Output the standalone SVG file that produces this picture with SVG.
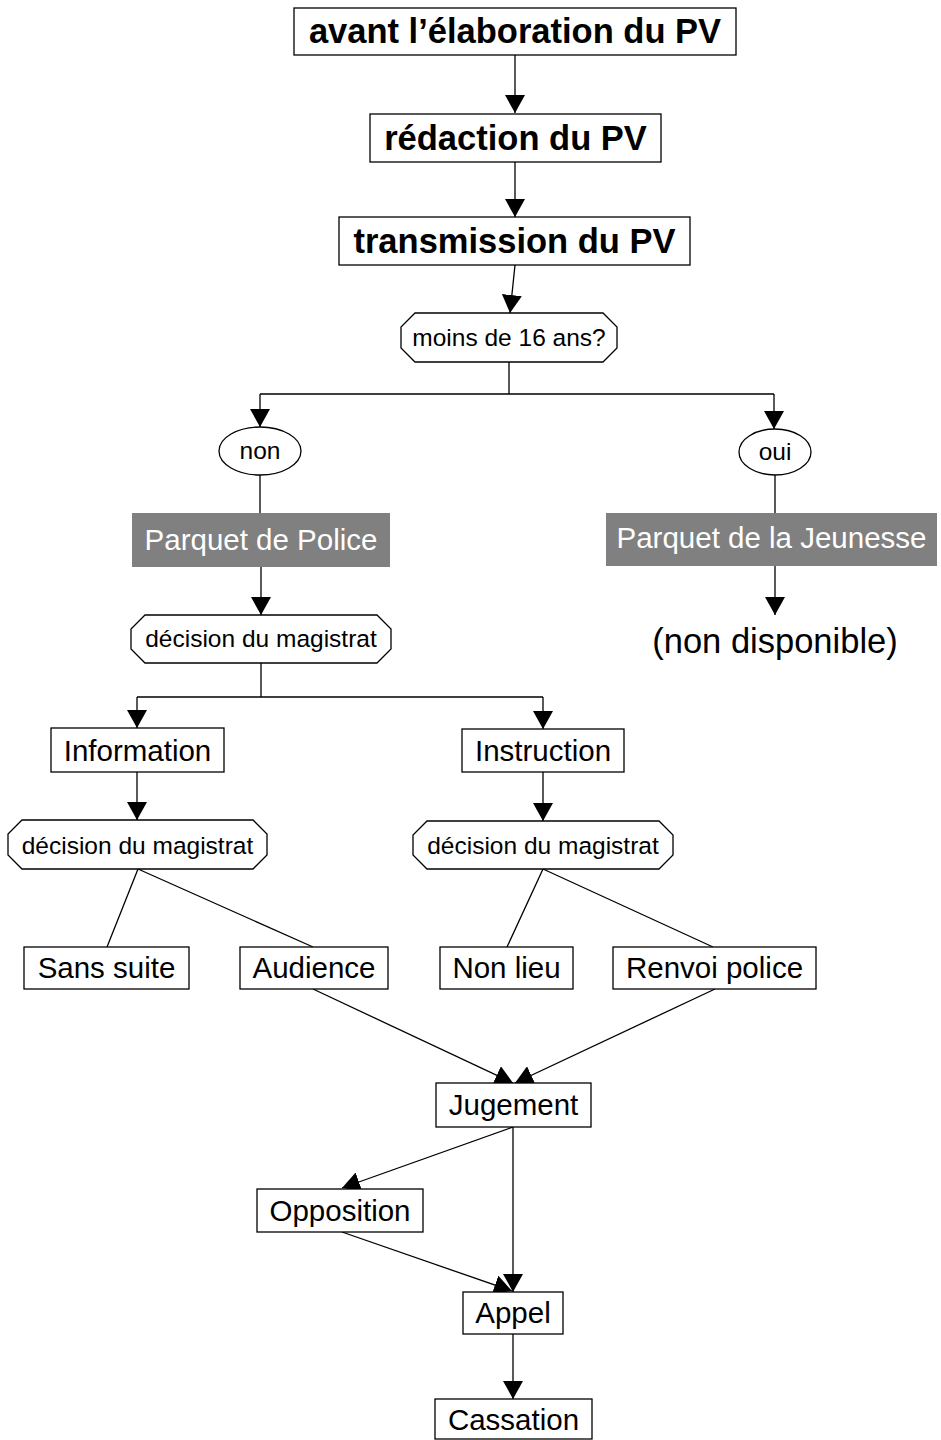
<svg xmlns="http://www.w3.org/2000/svg" width="941" height="1440" viewBox="0 0 941 1440">
<style>
.box{fill:#fff;stroke:#000;stroke-width:1.3}
.gray{fill:#808080;stroke:none}
.t{font-family:"Liberation Sans",Arial,sans-serif;text-anchor:middle;fill:#000}
.b{font-weight:bold;font-size:34.5px}
.m{font-size:29.5px}
.s{font-size:24.5px}
.w{fill:#fff}
.c{fill:none;stroke:#000;stroke-width:1.3}
</style>
<defs>
<marker id="ah" markerUnits="userSpaceOnUse" markerWidth="20" markerHeight="20" refX="18" refY="10" orient="auto">
<path d="M0,0 L18,10 L0,20 z" fill="#000"/>
</marker>
</defs>
<rect width="941" height="1440" fill="#fff"/>
<g id="connectors">
<path class="c" d="M515,55 L515,113" marker-end="url(#ah)"/>
<path class="c" d="M515,162 L515,217" marker-end="url(#ah)"/>
<path class="c" d="M515,265 L510,313" marker-end="url(#ah)"/>
<path class="c" d="M509,362 L509,394 M260,394 L774,394"/>
<path class="c" d="M260,394 L260,427" marker-end="url(#ah)"/>
<path class="c" d="M774,394 L774,429" marker-end="url(#ah)"/>
<path class="c" d="M260,475 L260,513"/>
<path class="c" d="M775,475 L775,513"/>
<path class="c" d="M261,567 L261,615" marker-end="url(#ah)"/>
<path class="c" d="M775,566 L775,615" marker-end="url(#ah)"/>
<path class="c" d="M261,663 L261,697 M137,697 L543,697"/>
<path class="c" d="M137,697 L137,728" marker-end="url(#ah)"/>
<path class="c" d="M543,697 L543,729" marker-end="url(#ah)"/>
<path class="c" d="M137,772 L137,820" marker-end="url(#ah)"/>
<path class="c" d="M543,772 L543,821" marker-end="url(#ah)"/>
<path class="c" d="M138,869 L107,947 M138,869 L313,947"/>
<path class="c" d="M543,869 L507,947 M543,869 L713,947"/>
<path class="c" d="M313,989 L513,1083" marker-end="url(#ah)"/>
<path class="c" d="M715,989 L515,1083" marker-end="url(#ah)"/>
<path class="c" d="M513,1127 L342,1188" marker-end="url(#ah)"/>
<path class="c" d="M513,1127 L513,1292" marker-end="url(#ah)"/>
<path class="c" d="M342,1232 L512,1291" marker-end="url(#ah)"/>
<path class="c" d="M513,1334 L513,1399" marker-end="url(#ah)"/>
</g>
<g id="n-avant"><rect class="box" x="294" y="8" width="442" height="47"/><text class="t b" x="515" y="43">avant l’élaboration du PV</text></g>
<g id="n-redaction"><rect class="box" x="370" y="114" width="291" height="48"/><text class="t b" x="515.5" y="150">rédaction du PV</text></g>
<g id="n-transmission"><rect class="box" x="339" y="217" width="351" height="48"/><text class="t b" x="514.5" y="253">transmission du PV</text></g>
<g id="n-moins16"><path class="box" d="M415,313 L603,313 L617,327 L617,348 L603,362 L415,362 L401,348 L401,327 Z"/><text class="t s" x="509" y="346">moins de 16 ans?</text></g>
<g id="n-non"><ellipse class="box" cx="260" cy="451" rx="41" ry="24"/><text class="t s" x="260" y="459">non</text></g>
<g id="n-oui"><ellipse class="box" cx="775" cy="452" rx="36" ry="23"/><text class="t s" x="775" y="460">oui</text></g>
<g id="n-parquet-police"><rect class="gray" x="132" y="513" width="258" height="54"/><text class="t m w" x="261" y="550">Parquet de Police</text></g>
<g id="n-parquet-jeunesse"><rect class="gray" x="606" y="513" width="331" height="53"/><text class="t m w" x="771.5" y="548">Parquet de la Jeunesse</text></g>
<g id="n-non-disponible"><text class="t b" style="font-weight:normal" x="775" y="653">(non disponible)</text></g>
<g id="n-decision1"><path class="box" d="M145,615 L377,615 L391,629 L391,649 L377,663 L145,663 L131,649 L131,629 Z"/><text class="t s" x="261" y="647">décision du magistrat</text></g>
<g id="n-information"><rect class="box" x="51" y="728" width="173" height="44"/><text class="t m" x="137.5" y="761">Information</text></g>
<g id="n-instruction"><rect class="box" x="462" y="729" width="162" height="43"/><text class="t m" x="543" y="761">Instruction</text></g>
<g id="n-decision2"><path class="box" d="M22,820 L253,820 L267,834 L267,855 L253,869 L22,869 L8,855 L8,834 Z"/><text class="t s" x="137.5" y="854">décision du magistrat</text></g>
<g id="n-decision3"><path class="box" d="M427,821 L659,821 L673,835 L673,855 L659,869 L427,869 L413,855 L413,835 Z"/><text class="t s" x="543" y="854">décision du magistrat</text></g>
<g id="n-sans-suite"><rect class="box" x="24" y="947" width="165" height="42"/><text class="t m" x="106.5" y="978">Sans suite</text></g>
<g id="n-audience"><rect class="box" x="240" y="947" width="148" height="42"/><text class="t m" x="314" y="978">Audience</text></g>
<g id="n-non-lieu"><rect class="box" x="440" y="947" width="133" height="42"/><text class="t m" x="506.5" y="978">Non lieu</text></g>
<g id="n-renvoi"><rect class="box" x="613" y="947" width="203" height="42"/><text class="t m" x="714.5" y="978">Renvoi police</text></g>
<g id="n-jugement"><rect class="box" x="436" y="1083" width="155" height="44"/><text class="t m" x="513.5" y="1115">Jugement</text></g>
<g id="n-opposition"><rect class="box" x="257" y="1189" width="166" height="43"/><text class="t m" x="340" y="1221">Opposition</text></g>
<g id="n-appel"><rect class="box" x="463" y="1292" width="100" height="42"/><text class="t m" x="513" y="1323">Appel</text></g>
<g id="n-cassation"><rect class="box" x="435" y="1399" width="157" height="40"/><text class="t m" x="513.5" y="1430">Cassation</text></g>
</svg>
